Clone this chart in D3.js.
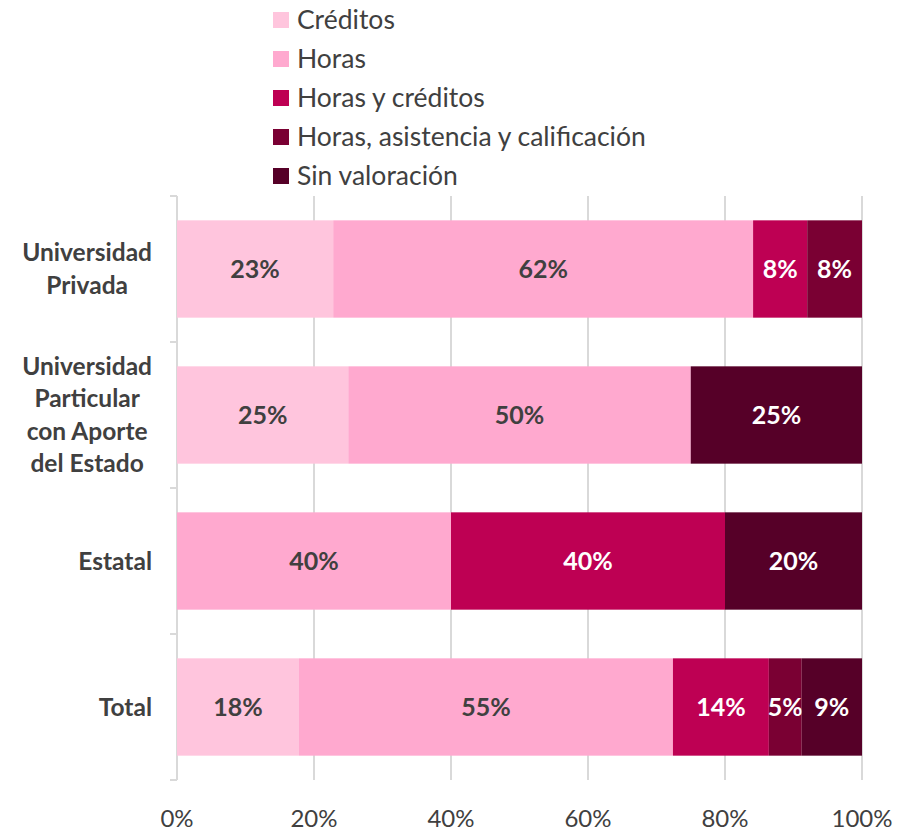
<!DOCTYPE html>
<html><head><meta charset="utf-8">
<script src="https://cdn.jsdelivr.net/npm/d3@7"></script>
<style>body{margin:0;background:#fff}svg{display:block}</style>
</head><body>
<script>
const categories = [["Universidad","Privada"],["Universidad","Particular","con Aporte","del Estado"],["Estatal"],["Total"]];
const catKeys = ["Universidad Privada","Universidad Particular con Aporte del Estado","Estatal","Total"];
const seriesNames = ["Créditos","Horas","Horas y créditos","Horas, asistencia y calificación","Sin valoración"];
const creditos   = [22.8, 25, 0, 17.8];
const horas      = [61.3, 50, 40, 54.6];
const horasYCred = [7.9, 0, 40, 14.0];
const horasAsist = [8.0, 0, 0, 4.8];
const sinValor   = [0, 25, 20, 8.8];
const labels = [["23%","62%","8%","8%",""],["25%","50%","","","25%"],["","40%","40%","","20%"],["18%","55%","14%","5%","9%"]];
const ticks = [0,20,40,60,80,100];
const colors = ["#FFC5DD","#FFA9CF","#BE0053","#7A0033","#560028"];
const textColors = ["#404040","#404040","#ffffff","#ffffff","#ffffff"];

const W=910,H=831;
const svg=d3.select("body").append("svg").attr("width",W).attr("height",H);
const font="Lato, 'Open Sans', sans-serif";
const x=d3.scaleLinear().domain([0,100]).range([177,862]);
const y=d3.scaleBand().domain(catKeys).range([196,780]).paddingInner(1/3).paddingOuter(1/6);

const seriesVals=[creditos,horas,horasYCred,horasAsist,sinValor];
const table=catKeys.map((k,i)=>{const o={cat:k};seriesNames.forEach((s,j)=>o[s]=seriesVals[j][i]);return o;});
const stack=d3.stack().keys(seriesNames)(table);

// gridlines
svg.append("g").selectAll("line").data(ticks).join("line")
 .attr("x1",d=>x(d)).attr("x2",d=>x(d)).attr("y1",196).attr("y2",780)
 .attr("stroke","#d9d9d9").attr("stroke-width",2);
// left axis band ticks
const bounds=d3.range(catKeys.length+1).map(i=>196+i*y.step());
svg.append("g").selectAll("line").data(bounds).join("line")
 .attr("x1",170).attr("x2",177).attr("y1",d=>d).attr("y2",d=>d)
 .attr("stroke","#d9d9d9").attr("stroke-width",2);

// bars
stack.forEach((layer,j)=>{
 const g=svg.append("g");
 g.selectAll("rect").data(layer).join("rect")
  .attr("x",d=>x(d[0])).attr("width",d=>x(d[1])-x(d[0]))
  .attr("y",d=>y(d.data.cat)).attr("height",y.bandwidth())
  .attr("fill",colors[j]);
 g.selectAll("text").data(layer).join("text")
  .attr("x",d=>(x(d[0])+x(d[1]))/2).attr("y",d=>y(d.data.cat)+y.bandwidth()/2)
  .attr("dy","0.35em").attr("text-anchor","middle")
  .attr("font-family",font).attr("font-weight","bold").attr("font-size",25)
  .attr("fill",textColors[j])
  .text((d,i)=>labels[i][j]);
});

// x axis labels
svg.append("g").selectAll("text").data(ticks).join("text")
 .attr("x",d=>x(d)).attr("y",827).attr("text-anchor","middle")
 .attr("font-family",font).attr("font-size",24).attr("fill","#404040")
 .text(d=>d+"%");

// category labels
catKeys.forEach((k,i)=>{
 const lines=categories[i];
 const g=svg.append("g");
 const lh=32.5;
 const cy=y(k)+y.bandwidth()/2;
 const t=g.selectAll("text").data(lines).join("text")
  .attr("y",(d,li)=>cy+(li-(lines.length-1)/2)*lh).attr("dy","0.35em")
  .attr("font-family",font).attr("font-weight","bold").attr("font-size",24.5)
  .attr("fill","#404040").attr("text-anchor","middle").text(d=>d);
 let maxW=0; t.each(function(){maxW=Math.max(maxW,this.getComputedTextLength());});
 t.attr("x",152-maxW/2);
});

// legend
const lg=svg.append("g");
seriesNames.forEach((s,i)=>{
 const cy=20+i*39;
 lg.append("rect").attr("x",273).attr("y",cy-8).attr("width",16).attr("height",16).attr("fill",colors[i]);
 lg.append("text").attr("x",297).attr("y",cy).attr("dy","0.35em")
  .attr("font-family",font).attr("font-size",26.5).attr("fill","#404040").text(s);
});
</script>
</body></html>
